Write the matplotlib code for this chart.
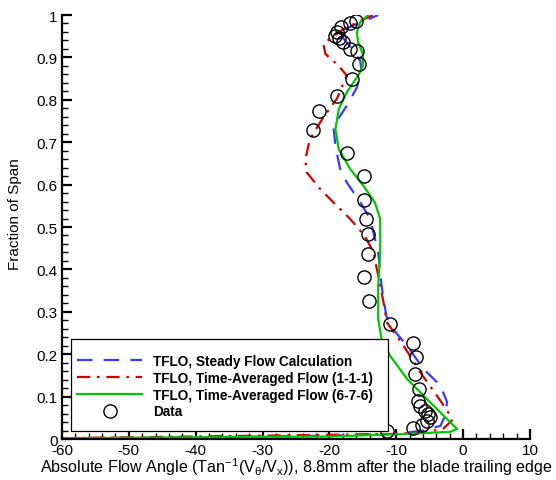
import matplotlib
matplotlib.use('Agg')
import matplotlib.pyplot as plt
from matplotlib.patches import Rectangle
from matplotlib.ticker import MultipleLocator, FuncFormatter

plt.rcParams['font.family'] = ['Liberation Sans', 'DejaVu Sans']
plt.rcParams['mathtext.default'] = 'regular'
plt.rcParams['axes.unicode_minus'] = False

# TFLO, steady flow calculation
steady_x = [-60, -40, -20, -10, -6, -3.4, -2.7, -2.4, -3.4, -5.9, -8.4, -10.9, -11.5,
            -12.2, -12.7, -13.9, -15.4, -17.4, -18.4, -19.1, -19.4, -17.4, -15.9,
            -15.2, -15.4, -16.6, -18.7, -12.7]
steady_y = [0.002, 0.004, 0.008, 0.012, 0.02, 0.031, 0.055, 0.087, 0.126, 0.165, 0.220,
            0.267, 0.291, 0.362, 0.440, 0.519, 0.559, 0.605, 0.637, 0.691, 0.738, 0.786,
            0.829, 0.869, 0.892, 0.920, 0.960, 1.0]

# TFLO, time-averaged (1-1-1)
avg111_x = [-60, -30, -10, -5, -3.0, -1.7, -1.9, -3.9, -6.4, -8.9, -11.4, -11.9, -12.7,
            -13.4, -14.7, -16.9, -19.4, -21.4, -23.4, -23.6, -22.9, -20.9, -18.9, -17.4,
            -18.6, -20.6, -20.9, -17.9, -13.5]
avg111_y = [0.002, 0.008, 0.012, 0.018, 0.024, 0.043, 0.055, 0.102, 0.157, 0.220, 0.275,
            0.322, 0.385, 0.440, 0.479, 0.519, 0.558, 0.590, 0.629, 0.660, 0.708, 0.759,
            0.802, 0.857, 0.880, 0.908, 0.932, 0.967, 1.0]

# TFLO, time-averaged (6-7-6)
avg676_x = [-60, -40, -20, -8.4, -1.9, -0.9, -2.4, -5.4, -8.4, -10.9, -12.2, -12.7, -12.7,
            -12.4, -12.4, -13.2, -14.9, -16.9, -18.6, -19.1, -18.6, -17.4, -15.7, -15.0,
            -15.0, -15.7, -15.9, -15.4, -14.2]
avg676_y = [0.002, 0.004, 0.006, 0.012, 0.017, 0.024, 0.047, 0.094, 0.142, 0.196, 0.236,
            0.283, 0.362, 0.440, 0.519, 0.558, 0.597, 0.637, 0.684, 0.731, 0.778, 0.818,
            0.857, 0.880, 0.908, 0.936, 0.959, 0.983, 1.0]

# measured data
data_x = [-16.05, -16.9, -18.2, -18.9, -19.1, -18.6, -17.9, -16.9, -15.8, -15.6, -16.6,
          -18.9, -21.5, -22.5, -17.4, -14.8, -14.9, -14.5, -14.3, -14.3, -14.8, -14.1,
          -10.9, -7.5, -7.0, -7.2, -6.6, -6.8, -6.5, -5.7, -5.3, -5.0, -5.4, -6.2, -7.5,
          -11.4]
data_y = [0.987, 0.980, 0.971, 0.959, 0.951, 0.945, 0.936, 0.921, 0.916, 0.884, 0.849,
          0.810, 0.774, 0.729, 0.675, 0.621, 0.564, 0.519, 0.483, 0.436, 0.381, 0.326,
          0.271, 0.226, 0.193, 0.153, 0.118, 0.090, 0.077, 0.067, 0.059, 0.051, 0.043,
          0.033, 0.025, 0.020]

fig = plt.figure(figsize=(5.56, 4.81), dpi=100)
ax = fig.add_axes([0.1115, 0.0852, 0.8417, 0.8815])

ax.plot(steady_x, steady_y, color='#3a3aff', lw=1.6, dashes=(7, 5),
        label='TFLO, Steady Flow Calculation')
ax.plot(avg111_x, avg111_y, color='#d40000', lw=1.6, dashes=(6, 3, 1.2, 3),
        label='TFLO, Time-Averaged Flow (1-1-1)')
ax.plot(avg676_x, avg676_y, color='#00c800', lw=1.6,
        label='TFLO, Time-Averaged Flow (6-7-6)')
ax.plot(data_x, data_y, 'o', ms=9.5, mfc='none', mec='black', mew=1.0, label='Data')

ax.set_xlim(-60, 10)
ax.set_ylim(0, 1)
ax.xaxis.set_major_locator(MultipleLocator(10))
ax.xaxis.set_minor_locator(MultipleLocator(2))
ax.yaxis.set_major_locator(MultipleLocator(0.1))
ax.yaxis.set_minor_locator(MultipleLocator(0.02))
ax.yaxis.set_major_formatter(FuncFormatter(lambda v, p: '%g' % round(v, 2)))

for s in ['top', 'right']:
    ax.spines[s].set_visible(False)
for s in ['left', 'bottom']:
    ax.spines[s].set_linewidth(1.6)
ax.tick_params(which='major', direction='in', length=7, width=1.6, labelsize=11)
ax.tick_params(which='minor', direction='in', length=4, width=1.0)
ax.tick_params(axis='x', pad=3)
ax.tick_params(axis='y', pad=3)

ax.set_xlabel('Absolute Flow Angle (Tan$^{-1}$(V$_{\\theta}$/V$_x$)), 8.8mm after the blade trailing edge',
              fontsize=11.6, labelpad=-1)
ax.set_ylabel('Fraction of Span', fontsize=11,
              family=['Liberation Sans Narrow', 'Liberation Sans'])
ax.yaxis.set_label_coords(-0.086, 0.533)

# legend box drawn separately (padding is wider top/bottom than sides)
ax.add_patch(Rectangle((0.0192, 0.0189), 0.6774, 0.2169, transform=ax.transAxes,
                       fill=True, facecolor='white', edgecolor='black', lw=0.9, zorder=4))
leg = ax.legend(loc='upper left', bbox_to_anchor=(0.032, 0.200), borderaxespad=0,
                borderpad=0, frameon=False, handlelength=4.8, handletextpad=0.8,
                numpoints=1, prop={'weight': 'bold', 'size': 9.8}, labelspacing=0.2)
leg.set_zorder(5)

fig.savefig('out.png', dpi=100)
